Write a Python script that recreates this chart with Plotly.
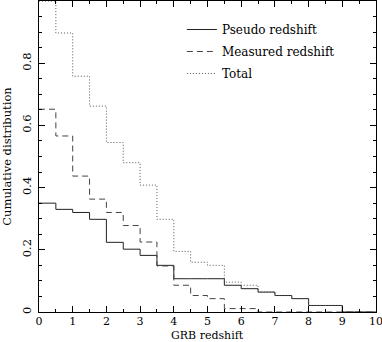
import plotly.graph_objects as go

# bin edges in redshift and cumulative fractions per bin
z_edges = [0, 0.5, 1, 1.5, 2, 2.5, 3, 3.5, 4, 4.5, 5, 5.5, 6, 6.5, 7, 7.5, 8, 8.5, 9, 9.5, 10]
pseudo = [0.350, 0.330, 0.320, 0.298, 0.224, 0.202, 0.182, 0.150, 0.107, 0.107,
          0.107, 0.086, 0.075, 0.064, 0.053, 0.043, 0.021, 0.021, 0.0, 0.0]
measured = [0.652, 0.566, 0.437, 0.363, 0.320, 0.278, 0.225, 0.148, 0.086, 0.053,
            0.043, 0.011, 0.011, 0.0, 0.0, 0.0, 0.0, 0.0, 0.0, 0.0]
total = [1.0, 0.897, 0.758, 0.662, 0.545, 0.480, 0.408, 0.298, 0.195, 0.160,
         0.150, 0.096, 0.086, 0.064, 0.053, 0.043, 0.021, 0.021, 0.0, 0.0]

x_ticks = [0, 1, 2, 3, 4, 5, 6, 7, 8, 9, 10]
y_ticks = [0, 0.2, 0.4, 0.6, 0.8]
y_ticktext = ['0', '0.2', '0.4', '0.6', '0.8']

FONT = 'DejaVu Serif'
FS = 11.5

def steps(vals):
    return z_edges, vals + [vals[-1]]

fig = go.Figure()

x, y = steps(pseudo)
fig.add_trace(go.Scatter(x=x, y=y, mode='lines', line_shape='hv', name='Pseudo redshift',
                         legendgroup='p', line=dict(color='#222', width=1)))
x, y = steps(measured)
fig.add_trace(go.Scatter(x=x, y=y, mode='lines', line_shape='hv', name='Measured redshift',
                         legendgroup='m', line=dict(color='#444', width=1, dash='6px,4px')))
x, y = steps(total)
fig.add_trace(go.Scatter(x=x, y=y, mode='lines', line_shape='hv', name='Total',
                         legendgroup='t', line=dict(color='#555', width=1, dash='1px,2px')))

axis_common = dict(showgrid=False, zeroline=False, showline=True, linecolor='black',
                   linewidth=1, mirror='allticks', ticks='inside', tickcolor='black',
                   ticklen=6, tickwidth=1, automargin=False, ticklabeloverflow='allow')

fig.update_layout(
    width=382, height=342,
    margin=dict(l=39, r=6, t=1, b=30),
    paper_bgcolor='white', plot_bgcolor='white',
    font=dict(family=FONT, size=FS, color='black'),
    showlegend=True,
    legend=dict(x=0.424, y=0.955, xanchor='left', yanchor='top',
                bgcolor='rgba(0,0,0,0)', font=dict(family=FONT, size=12, color='black'),
                tracegroupgap=3),
    xaxis=dict(range=[0, 10], tickvals=x_ticks, ticklabelstandoff=-1,
               tickfont=dict(family=FONT, size=11, color='black'),
               minor=dict(dtick=0.5, ticklen=3, ticks='inside', tickcolor='black'),
               **axis_common),
    yaxis=dict(range=[0, 1], tickvals=y_ticks, ticktext=y_ticktext, tickangle=-90,
               ticklabelstandoff=2, tickfont=dict(family=FONT, size=FS, color='black'),
               minor=dict(dtick=0.05, ticklen=3, ticks='inside', tickcolor='black'),
               title=dict(text='Cumulative distribution', font=dict(family=FONT, size=FS)),
               **axis_common),
    annotations=[dict(text='GRB redshift', xref='paper', yref='paper', x=0.5, y=-0.074,
                      xanchor='center', yanchor='middle', showarrow=False,
                      font=dict(family=FONT, size=11, color='black'))],
)

fig.write_html('out.html', config={'displayModeBar': False},
               post_script="document.body.style.margin='0';")
